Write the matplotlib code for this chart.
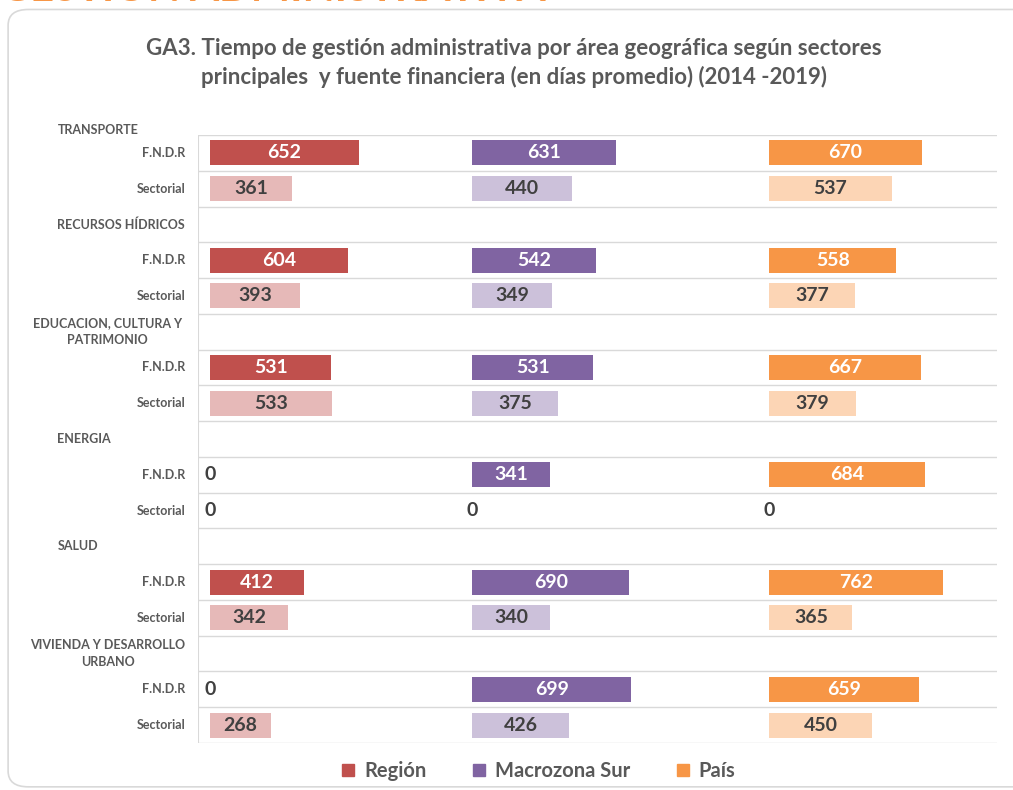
import numpy as np
import matplotlib.pyplot as plt
from matplotlib.patches import FancyBboxPatch, Patch

plt.rcParams['font.family'] = ['Lato', 'DejaVu Sans']

sectors = ['TRANSPORTE', 'RECURSOS HÍDRICOS', 'EDUCACION, CULTURA Y\nPATRIMONIO',
           'ENERGIA', 'SALUD', 'VIVIENDA Y DESARROLLO\nURBANO']
sources = ['F.N.D.R', 'Sectorial']
series = ['Región', 'Macrozona Sur', 'País']

# values per sector: [FNDR, Sectorial]
region = [[652, 361], [604, 393], [531, 533], [0, 0], [412, 342], [0, 268]]
macrozona = [[631, 440], [542, 349], [531, 375], [341, 0], [690, 340], [699, 426]]
pais = [[670, 537], [558, 377], [667, 379], [684, 0], [762, 365], [659, 450]]

dark = ['#C0504D', '#8064A2', '#F79646']
light = ['#E6B9B8', '#CCC1DA', '#FCD5B5']
offsets = [0, 1149, 2452]   # panel start of each series on the shared axis
txt = '#595959'

fig = plt.figure(figsize=(10.13, 7.90), dpi=100)

# outer rounded box and cut heading
box = FancyBboxPatch((0.008, 0.004), 1.1, 0.984, boxstyle='round,pad=0,rounding_size=0.02',
                     transform=fig.transFigure, fc='white', ec='#d9d9d9', lw=1.2, zorder=-5)
fig.patches.append(box)
fig.text(0.0, 1 - 1 / 790, 'GESTIÓN ADMINISTRATIVA', color='#F79646', fontsize=30,
         fontweight='bold', va='baseline', ha='left')

ax = fig.add_axes([198 / 1013, 1 - 743 / 790, 799 / 1013, 608 / 790])
ax.set_facecolor('none')

n_rows = len(sectors) * 3
for s, vals in enumerate([region, macrozona, pais]):
    for i, pair in enumerate(vals):
        for j, v in enumerate(pair):
            y = i * 3 + 1 + j
            col = dark[s] if j == 0 else light[s]
            ax.barh(y, v, left=offsets[s], height=0.7, color=col)
            tc = 'white' if (j == 0 and v > 0) else '#404040'
            ax.text(offsets[s] + v / 2, y, str(v), ha='center', va='center',
                    fontsize=14, fontweight='bold', color=tc)

ax.set_ylim(n_rows - 0.5, 0.5)
ax.set_xlim(-53, 3451)
for k in range(n_rows):
    ax.axhline(k + 0.5, color='#d9d9d9', lw=1, zorder=0)
for sp in ax.spines.values():
    sp.set_visible(False)
ax.axvline(-53, color='#d9d9d9', lw=1.5)
ax.set_xticks([])
ax.set_yticks([])

# category labels
for i, name in enumerate(sectors):
    yh = i * 3 if i > 0 else 0.36
    if '\n' in name:
        ax.text(-0.113, yh, name, transform=ax.get_yaxis_transform(), ha='center',
                va='center', fontsize=9, fontweight='bold', color=txt,
                linespacing=1.5, clip_on=False)
    else:
        ax.text(-0.176, yh, name, transform=ax.get_yaxis_transform(), ha='left',
                va='center', fontsize=9, fontweight='bold', color=txt, clip_on=False)
    for j, src in enumerate(sources):
        ax.text(-0.016, i * 3 + 1 + j, src, transform=ax.get_yaxis_transform(),
                ha='right', va='center', fontsize=9, fontweight='bold', color=txt)

fig.text(0.507, 1 - 63 / 790, 'GA3. Tiempo de gestión administrativa por área geográfica según sectores\n'
         'principales  y fuente financiera (en días promedio) (2014 -2019)',
         ha='center', va='center', fontsize=16, fontweight='bold', color=txt, linespacing=1.35)

handles = [Patch(color=c) for c in dark]
fig.legend(handles, series, loc='center', bbox_to_anchor=(0.532, 0.024), ncol=3,
           frameon=False, handlelength=0.6, handleheight=0.6,
           handletextpad=0.5, columnspacing=2.3, labelcolor=txt,
           prop={'weight': 'bold', 'size': 14.5})

fig.savefig('out.png', dpi=100)
